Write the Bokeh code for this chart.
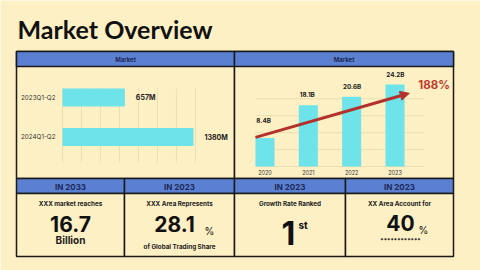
from bokeh.plotting import figure
from bokeh.models import Range1d, Arrow, NormalHead
from bokeh.core.properties import value
from bokeh.embed import file_html
from bokeh.resources import INLINE

# ---------------- data ----------------
left_categories = ["2023Q1-Q2", "2024Q1-Q2"]
left_values = [657, 1380]
left_labels = ["657M", "1380M"]

right_years = ["2020", "2021", "2022", "2023"]
right_values = [8.4, 18.1, 20.6, 24.2]
right_labels = ["8.4B", "18.1B", "20.6B", "24.2B"]
growth_label = "188%"

panel_titles = ["Market", "Market"]
stat_headers = ["IN 2033", "IN 2023", "IN 2023", "IN 2023"]
stat_captions = ["XXX market reaches", "XXX Area Represents", "Growth Rate Ranked", "XX Area Account for"]
stat_values = ["16.7", "28.1", "1", "40"]
stat_suffix = ["", "%", "st", "%"]
stat_footers = ["Billion", "of Global Trading Share", "", "************"]

# ---------------- style ----------------
BG = "#fdf0c4"
BLUE = "#5b80d2"
NAVY = "#1c2858"
CYAN = "#6ee3ea"
GRID = "#ebdfb2"
RED = "#b3302b"
LINE = "#1a1a1a"
F = value("Inter")
T = value("Lato")

W, H = 480, 270
p = figure(width=W, height=H, x_range=Range1d(0, W), y_range=Range1d(H, 0),
           x_axis_type=None, y_axis_type=None, output_backend="svg",
           toolbar_location=None, min_border=0, background_fill_color=BG,
           border_fill_color=BG, outline_line_color=None)


def xr(v0, p0, v1, p1):
    k = (p1 - p0) / (v1 - v0)
    return Range1d(start=v0 - p0 / k, end=v0 + (W - p0) / k)


def yr(v0, p0, v1, p1):
    k = (p1 - p0) / (v1 - v0)
    return Range1d(start=v0 + (H - p0) / k, end=v0 - p0 / k)


p.extra_x_ranges = {"lx": xr(0, 62, 1380, 193), "rx": xr(0, 264.5, 3, 394.5)}
p.extra_y_ranges = {"ly": yr(0, 97, 1, 136.5), "ry": yr(0, 166, 24.2, 84)}

# title
p.text(x=[17], y=[28.5], text=["Market Overview"], text_font=T, text_font_size=value("25px"),
       text_font_style="bold", text_baseline="middle", text_color="#111111")

# top panels
pl, pr = [16, 234], [234, 453]
p.quad(left=pl, right=pr, top=51, bottom=178, fill_color=BG, line_color=LINE, line_width=1.5)
p.quad(left=pl, right=pr, top=51, bottom=66, fill_color=BLUE, line_color=LINE, line_width=1.5)
p.text(x=[(a + b) / 2 for a, b in zip(pl, pr)], y=[58.8, 58.8], text=panel_titles,
       text_font=F, text_font_size=value("6px"), text_font_style="bold",
       text_align="center", text_baseline="middle", text_color=NAVY)

# bottom cells
edges = [16, 124, 234, 345, 453]
cl, cr = edges[:-1], edges[1:]
cx = [(a + b) / 2 for a, b in zip(cl, cr)]
p.quad(left=cl, right=cr, top=178, bottom=193, fill_color=BLUE, line_color=LINE, line_width=1.5)
p.quad(left=cl, right=cr, top=193, bottom=256, fill_color=BG, line_color=LINE, line_width=1.5)
p.text(x=cx, y=[186] * 4, text=stat_headers, text_font=F, text_font_size=value("8px"),
       text_font_style="bold", text_align="center", text_baseline="middle", text_color=NAVY)
p.text(x=cx, y=[203] * 4, text=stat_captions, text_font=F, text_font_size=value("6.3px"),
       text_font_style="bold", text_align="center", text_baseline="middle", text_color="#222222")

# big numbers
big_x = [70, 174, 288, 400]
big_y = [223, 223, 232, 222]
big_size = ["21px", "21px", "32px", "21px"]
for i in range(4):
    p.text(x=[big_x[i]], y=[big_y[i]], text=[stat_values[i]], text_font=F,
           text_font_size=value(big_size[i]), text_font_style="bold",
           text_align="center", text_baseline="middle", text_color="#111111")
suf_x = [0, 204, 298, 418]
suf_y = [0, 230, 224, 229]
suf_size = ["0px", "10px", "10px", "10px"]
for i in range(1, 4):
    p.text(x=[suf_x[i]], y=[suf_y[i]], text=[stat_suffix[i]], text_font=F,
           text_font_size=value(suf_size[i]), text_font_style="bold" if stat_suffix[i] == "st" else "normal",
           text_align="left", text_baseline="middle", text_color="#111111")
foot_y = [239, 246, 0, 240]
foot_size = ["10px", "6.3px", "6px", "6px"]
for i in [0, 1, 3]:
    p.text(x=[cx[i] + (1 if i == 3 else 0)], y=[foot_y[i]], text=[stat_footers[i]], text_font=F,
           text_font_size=value(foot_size[i]), text_font_style="bold",
           text_align="center", text_baseline="middle", text_color="#222222")

# ---------------- left chart: horizontal bars ----------------
lidx = list(range(len(left_categories)))
grid_vals = list(range(0, 1401, 200))
p.segment(x0=grid_vals, y0=-0.23, x1=grid_vals, y1=1.65, line_color=GRID, line_width=1,
          x_range_name="lx", y_range_name="ly")
p.hbar(y=lidx, left=0, right=left_values, height=0.46, fill_color=CYAN, line_color=None,
       x_range_name="lx", y_range_name="ly")
p.text(x=[0] * 2, y=lidx, text=left_categories, x_offset=-7, text_font=F,
       text_font_size=value("6.3px"), text_align="right", text_baseline="middle",
       text_color="#333333", x_range_name="lx", y_range_name="ly")
p.text(x=left_values, y=lidx, text=left_labels, x_offset=11, text_font=F,
       text_font_size=value("7px"), text_font_style="bold", text_align="left",
       text_baseline="middle", text_color="#222222", x_range_name="lx", y_range_name="ly")

# ---------------- right chart: vertical bars ----------------
ridx = list(range(len(right_years)))
hgrid = [0, 5, 10, 15, 20]
p.segment(x0=-0.22, y0=hgrid, x1=3.66, y1=hgrid, line_color=GRID, line_width=1,
          x_range_name="rx", y_range_name="ry")
bw = 0.44
p.vbar(x=ridx, top=right_values, bottom=0, width=bw, fill_color=CYAN, line_color=None,
       x_range_name="rx", y_range_name="ry")
p.text(x=ridx, y=[0] * 4, text=right_years, y_offset=6, text_font=F, text_font_size=value("5.5px"),
       text_align="center", text_baseline="middle", text_color="#333333",
       x_range_name="rx", y_range_name="ry")

ax0, ay0, ax1, ay1 = -0.22, 8.6, 3.33, 21.6
def arrow_y(x):
    return ay0 + (x - ax0) * (ay1 - ay0) / (ax1 - ax0)

lab_y = [max(v, arrow_y(i) + 1.2) for i, v in zip(ridx, right_values)]
p.text(x=[i - bw / 2 + 0.02 for i in ridx], y=lab_y, text=right_labels, y_offset=-6, text_font=F,
       text_font_size=value("6.3px"), text_font_style="bold", text_align="left",
       text_baseline="bottom", text_color="#222222", x_range_name="rx", y_range_name="ry")

p.add_layout(Arrow(end=NormalHead(size=9, fill_color=RED, line_color=RED),
                   x_start=ax0, y_start=ay0, x_end=ax1, y_end=ay1,
                   line_color=RED, line_width=3, x_range_name="rx", y_range_name="ry"))
p.text(x=[3.33], y=[24.0], text=[growth_label], x_offset=9, text_font=F,
       text_font_size=value("11.5px"), text_font_style="bold", text_align="left",
       text_baseline="middle", text_color="#c0392b", x_range_name="rx", y_range_name="ry")

open("out.html", "w").write(file_html(p, INLINE))
